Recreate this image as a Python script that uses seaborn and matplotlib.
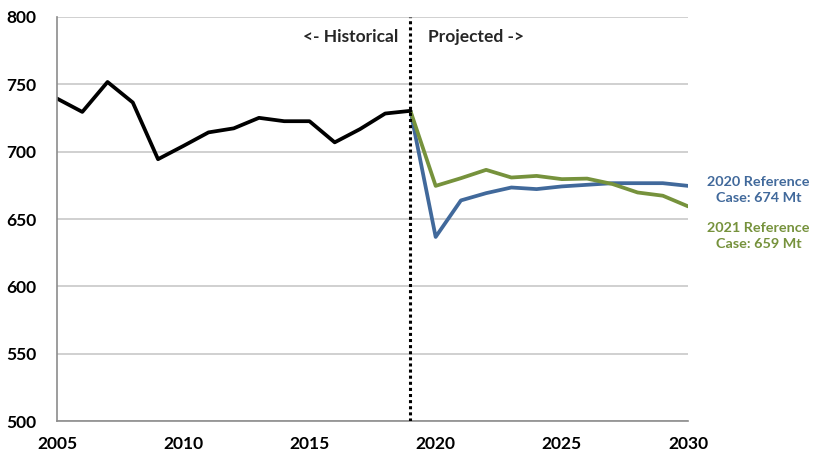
import numpy as np
import pandas as pd
import matplotlib.pyplot as plt
import seaborn as sns

# Historical emissions (Mt)
hist_years = list(range(2005, 2020))
hist_values = [739.4, 729.5, 751.7, 736.5, 694.4, 704.2, 714.3, 717.3, 725.1,
               722.6, 722.6, 706.9, 716.7, 728.3, 730.3]

# Projections, 2019-2030
proj_years = list(range(2019, 2031))
ref2020 = [730.3, 636.7, 663.8, 669.2, 673.4, 672.2, 674.2, 675.4, 676.6,
           676.6, 676.6, 674.6]
ref2021 = [730.3, 674.6, 680.3, 686.5, 680.8, 682.0, 679.6, 680.0, 676.0,
           669.7, 667.3, 659.4]

black = "#000000"
blue = "#41699B"
green = "#76923C"

sns.set_style("white")
plt.rcParams['font.family'] = ['Lato', 'DejaVu Sans']
plt.rcParams['font.weight'] = 'bold'

fig = plt.figure(figsize=(8.27, 4.70), dpi=100)
ax = fig.add_axes([0.069, 0.104, 0.763, 0.860])

df_hist = pd.DataFrame({"year": hist_years, "value": hist_values})
df_2020 = pd.DataFrame({"year": proj_years, "value": ref2020})
df_2021 = pd.DataFrame({"year": proj_years, "value": ref2021})

sns.lineplot(data=df_2020, x="year", y="value", color=blue, linewidth=2.7, ax=ax)
sns.lineplot(data=df_2021, x="year", y="value", color=green, linewidth=2.7, ax=ax)
sns.lineplot(data=df_hist, x="year", y="value", color=black, linewidth=2.7, ax=ax)

ax.axvline(2019, color="black", linestyle=(0, (1, 1)), linewidth=2.2, zorder=5)

ax.set_xlim(2005, 2030)
ax.set_ylim(500, 800)
ax.set_xticks([2005, 2010, 2015, 2020, 2025, 2030])
ax.set_yticks([500, 550, 600, 650, 700, 750, 800])
ax.set_xlabel("")
ax.set_ylabel("")
ax.grid(axis="y", color="#c8c8c8", linewidth=1.2)
ax.set_axisbelow(True)

for s in ["top", "right"]:
    ax.spines[s].set_visible(False)
for s in ["left", "bottom"]:
    ax.spines[s].set_color("#8c8c8c")
    ax.spines[s].set_linewidth(1.2)

ax.tick_params(axis="both", direction="out", length=5, width=1.2, color="#8c8c8c",
               labelsize=12.5, labelcolor="black")
ax.tick_params(axis="x", pad=6)
ax.tick_params(axis="y", pad=10)
for lab in ax.get_xticklabels() + ax.get_yticklabels():
    lab.set_fontweight("bold")

ax.text(2018.5, 785, "<- Historical", ha="right", va="center", fontsize=12.5, fontweight="bold")
ax.text(2019.7, 785, "Projected ->", ha="left", va="center", fontsize=12.5, fontweight="bold")

ax.text(1.112, 0.572, "2020 Reference\nCase: 674 Mt", transform=ax.transAxes, ha="center",
        va="center", color=blue, fontsize=10.4, fontweight="bold", linespacing=1.45)
ax.text(1.112, 0.458, "2021 Reference\nCase: 659 Mt", transform=ax.transAxes, ha="center",
        va="center", color=green, fontsize=10.4, fontweight="bold", linespacing=1.45)

fig.savefig("out.png", dpi=100)
